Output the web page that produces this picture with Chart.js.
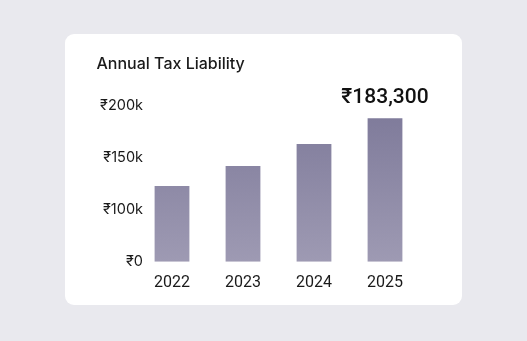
<!DOCTYPE html>
<html>
<head>
<meta charset="utf-8">
<script src="https://cdn.jsdelivr.net/npm/chart.js@4"></script>
<style>
  html, body { margin: 0; padding: 0; background: #e9e9ee; }
  body { width: 527px; height: 341px; position: relative; overflow: hidden; }
  .card { position: absolute; left: 65px; top: 34px; width: 397px; height: 271px; background: #fff; border-radius: 9px; }
  canvas { display: block; }
</style>
</head>
<body>
<div class="card"><canvas id="tax-chart" width="397" height="271"></canvas></div>
<script>
const years = ['2022', '2023', '2024', '2025'];
const taxValues = [96800, 122300, 150300, 183300];
const yTickLabels = ['₹200k', '₹150k', '₹100k', '₹0'];

// 마지막 막대 위에 금액 표시
const lastValueLabel = {
  id: 'lastValueLabel',
  afterDatasetsDraw(chart) {
    const i = taxValues.length - 1;
    const bar = chart.getDatasetMeta(0).data[i];
    const ctx = chart.ctx;
    ctx.save();
    ctx.font = '500 21px Roboto';
    ctx.fillStyle = '#111';
    ctx.textAlign = 'center';
    ctx.textBaseline = 'alphabetic';
    ctx.fillText('₹' + taxValues[i].toLocaleString('en-US'), bar.x, bar.y - 15);
    ctx.restore();
  }
};

const ctx = document.getElementById('tax-chart');

new Chart(ctx, {
  type: 'bar',
  data: {
    labels: years,
    datasets: [{
      data: taxValues,
      categoryPercentage: 1,
      barPercentage: 0.49,
      backgroundColor(context) {
        const { chart } = context;
        const area = chart.chartArea;
        if (!area) return '#8a86a3';
        const g = chart.ctx.createLinearGradient(0, area.top, 0, area.bottom);
        g.addColorStop(0, '#7d7999');
        g.addColorStop(1, '#9e9ab3');
        return g;
      }
    }]
  },
  options: {
    responsive: false,
    animation: false,
    layout: { padding: { left: 31.5, right: 41.5, bottom: 0 } },
    plugins: {
      legend: { display: false },
      tooltip: { enabled: false },
      title: {
        display: true,
        text: 'Annual Tax Liability',
        align: 'start',
        color: '#1a1a1a',
        font: { family: 'Inter', size: 16, weight: '500' },
        padding: { top: 21, bottom: 31 }
      }
    },
    scales: {
      x: {
        grid: { display: false, drawTicks: false },
        border: { display: false },
        ticks: { color: '#1a1a1a', font: { family: 'Roboto', size: 16 }, padding: 12 }
      },
      y: { display: false, min: 0, max: 200000 },
      yLabels: {
        type: 'category',
        labels: yTickLabels,
        position: 'left',
        offset: false,
        grid: { display: false, drawTicks: false },
        border: { display: false },
        ticks: { color: '#1a1a1a', font: { family: 'Inter', size: 14.5 }, padding: -6.5 },
        afterFit(scale) {
          scale.width = 40;
          // 라벨이 차트 영역 쪽으로 겹쳐도 잘리지 않게
          scale._computeLabelArea = () => undefined;
        }
      }
    }
  },
  plugins: [lastValueLabel]
});
</script>
</body>
</html>
